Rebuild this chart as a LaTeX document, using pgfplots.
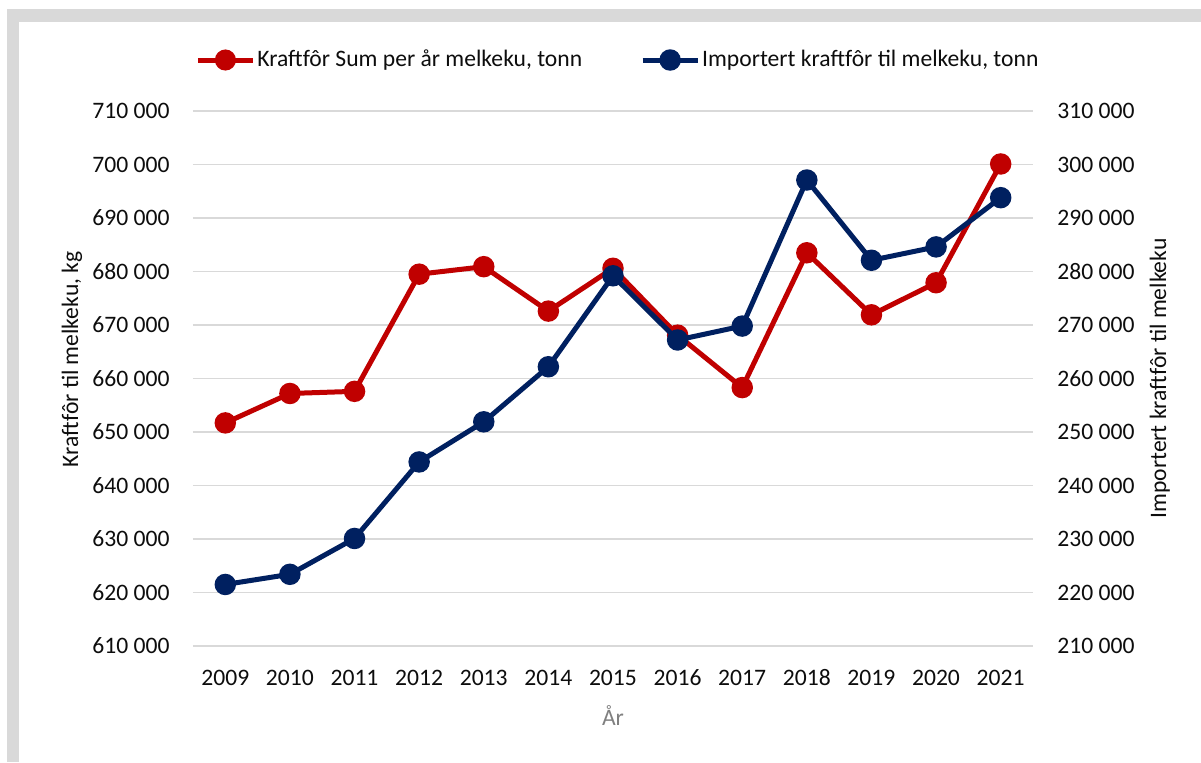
\documentclass[border=0pt]{standalone}
\usepackage{fontspec}
\setmainfont{Carlito}
\usepackage{pgfplots}
\pgfplotsset{compat=1.18}
\definecolor{cred}{HTML}{C00000}
\definecolor{cblue}{HTML}{002060}
\definecolor{cgrid}{HTML}{D9D9D9}
\definecolor{cframe}{HTML}{D9D9D9}
\definecolor{ctext}{HTML}{0D0D0D}
\definecolor{cxlab}{HTML}{808080}
\begin{document}
\begin{tikzpicture}
\fill[cframe] (3.65pt,0pt) rectangle (600.5pt,376.5pt);
\fill[white] (9.65pt,0pt) rectangle (600.5pt,369.85pt);
\pgfplotsset{
  common/.style={
    at={(96.5pt,58pt)}, anchor=south west,
    scale only axis, width=420pt, height=267.5pt,
    xmin=2008.5, xmax=2021.5,
    axis line style={draw=none}, major tick length=0pt,
    /pgf/number format/assume math mode=true,
    font=\fontsize{11.8}{14}\selectfont,
    tick label style={font=\fontsize{11.8}{14}\selectfont, text=ctext},
    yticklabel={\pgfmathprintnumber[fixed,precision=0,1000 sep={\ }]{\tick}},
    scaled y ticks=false,
  },
}
\begin{axis}[common,
  axis x line*=bottom, axis y line*=left,
  ymin=610000, ymax=710000, ytick distance=10000,
  xtick={2009,...,2021},
  xticklabel={\pgfmathprintnumber[fixed,precision=0,1000 sep={}]{\tick}},
  xticklabel style={anchor=base, yshift=-19.5pt},
  yticklabel style={anchor=east, inner sep=0pt, xshift=-11.5pt},
  ymajorgrids, grid style={cgrid, line width=0.8pt},
  ylabel={Kraftfôr til melkeku, kg},
  ylabel style={at={(axis description cs:-0.144,0.536)}, anchor=center, text=ctext},
  xlabel={År},
  xlabel style={at={(axis description cs:0.5,-0.129)}, anchor=center, text=cxlab},
]
\addplot[cred, line width=2.5pt, mark=*, mark size=4.1pt] coordinates {
(2009,651700) (2010,657200) (2011,657600) (2012,679500) (2013,680900)
(2014,672600) (2015,680600) (2016,668100) (2017,658300) (2018,683500)
(2019,671900) (2020,677900) (2021,700100)};
\end{axis}
\begin{axis}[common,
  axis x line=none, axis y line*=right,
  ymin=210000, ymax=310000, ytick distance=10000,
  yticklabel style={anchor=west, inner sep=0pt, xshift=12pt},
  ylabel={Importert kraftfôr til melkeku},
  ylabel style={at={(axis description cs:1.151,0.5)}, anchor=center, rotate=0, text=ctext},
  legend columns=2,
  legend style={at={(axis description cs:0.0024,1.0953)}, anchor=west, draw=none, fill=none,
    inner sep=0pt, font=\fontsize{11.8}{14}\selectfont, text=ctext,
    nodes={inner sep=1pt},
    /tikz/every even column/.append style={column sep=28pt}},
  legend image code/.code={\draw[mark repeat=2,mark phase=2,#1] plot coordinates {(0pt,0pt) (13.75pt,0pt) (27.5pt,0pt)};},
]
\addlegendimage{cred, line width=2.5pt, mark=*, mark size=4pt}
\addlegendentry{Kraftfôr Sum per år melkeku, tonn}
\addplot[cblue, line width=2.5pt, mark=*, mark size=4.1pt] coordinates {
(2009,221500) (2010,223400) (2011,230100) (2012,244400) (2013,251900)
(2014,262200) (2015,279200) (2016,267200) (2017,269800) (2018,297100)
(2019,282100) (2020,284600) (2021,293800)};
\addlegendentry{Importert kraftfôr til melkeku, tonn}
\end{axis}
\pgfresetboundingbox
\path (0,0) rectangle (600.5pt,381pt);
\end{tikzpicture}
\end{document}
